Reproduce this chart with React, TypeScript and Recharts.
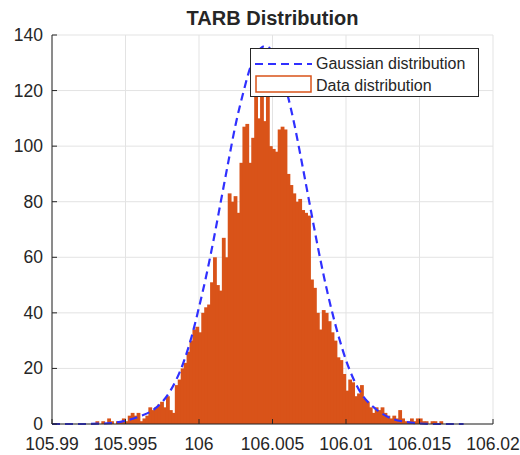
import React from "react";
import { Bar, CartesianGrid, ComposedChart, Line, XAxis, YAxis } from "recharts";

// histogram bins (0.0002 wide, starting at 105.993), counts
const binStart = 105.993;
const binWidth = 0.0002;
const binCounts = [
  1, 0, 1, 0, 2, 1, 0, 1, 1, 2,
  1, 3, 4, 3, 4, 1, 2, 3, 6, 5,
  6, 7, 8, 6, 10, 5, 4, 14, 16, 20,
  22, 26, 30, 34, 35, 33, 40, 42, 43, 51,
  60, 50, 48, 67, 60, 83, 80, 82, 76, 94,
  107, 108, 94, 103, 118, 110, 122, 109, 118, 100,
  99, 98, 106, 107, 106, 90, 86, 83, 80, 81,
  77, 76, 75, 52, 49, 40, 34, 41, 40, 37,
  33, 30, 24, 23, 18, 12, 16, 15, 10, 11,
  14, 9, 8, 6, 4, 6, 5, 6, 4, 3,
  2, 3, 2, 5, 2, 1, 1, 2, 1, 2,
  2, 1, 1, 0, 1, 1, 0, 1, 0, 0,
];

// fitted gaussian curve
const gaussX = [
  105.99, 105.992, 105.994, 105.995, 105.996, 105.997, 105.998, 105.999, 105.9995,
  106.0, 106.0005, 106.001, 106.0015, 106.002, 106.0025, 106.003, 106.0035, 106.004,
  106.0045, 106.005, 106.0055, 106.006, 106.0065, 106.007, 106.0075, 106.008, 106.0085,
  106.009, 106.0095, 106.01, 106.011, 106.012, 106.013, 106.014, 106.015, 106.016, 106.018,
];
const gaussY = [
  0, 0, 0.3, 1.2, 2.8, 5.5, 11.5, 23, 31.5,
  42, 53.5, 66.5, 80.5, 94.5, 108, 119, 128.5, 134,
  136, 134, 128, 119, 107.5, 94, 80, 66, 53,
  41.5, 31.5, 23, 11.3, 5.5, 2.2, 0.8, 0.2, 0, 0,
];

const xTicks = [105.99, 105.995, 106, 106.005, 106.01, 106.015, 106.02];
const xTickLabels = ["105.99", "105.995", "106", "106.005", "106.01", "106.015", "106.02"];
const yTicks = [0, 20, 40, 60, 80, 100, 120, 140];

const histData = binCounts.map((count, i) => ({ x: binStart + binWidth * (i + 0.5), count }));
const gaussData = gaussX.map((x, i) => ({ x, g: gaussY[i] }));

const INK = "#262626";
const ORANGE = "#D95319";
const BLUE = "#3030ff";
const FONT = "'Liberation Sans', Arial, sans-serif";
const TICK_LEN = 5;
const BIN_PX = 3.8; // one bin is ~2.94px wide, overlap so the area is solid

function BottomTick(props: any) {
  const { x, y, payload } = props;
  const label = xTickLabels[xTicks.indexOf(payload.value)] ?? String(payload.value);
  return (
    <g>
      <line x1={x} x2={x} y1={y} y2={y - TICK_LEN} stroke={INK} />
      <text x={x} y={y + 26} textAnchor="middle" fontSize={17.5} fill={INK} fontFamily={FONT}>
        {label}
      </text>
    </g>
  );
}

function TopTick(props: any) {
  const { x, y } = props;
  return <line x1={x} x2={x} y1={y} y2={y + TICK_LEN} stroke={INK} />;
}

function LeftTick(props: any) {
  const { x, y, payload } = props;
  return (
    <g>
      <line x1={x} x2={x + TICK_LEN} y1={y} y2={y} stroke={INK} />
      <text x={x - 9} y={y + 6} textAnchor="end" fontSize={17.5} fill={INK} fontFamily={FONT}>
        {payload.value}
      </text>
    </g>
  );
}

function RightTick(props: any) {
  const { x, y } = props;
  return <line x1={x} x2={x - TICK_LEN} y1={y} y2={y} stroke={INK} />;
}

function BinShape(props: any) {
  const { x, y, width, height } = props;
  if (!height || height <= 0) return null;
  return <rect x={x + width / 2 - BIN_PX / 2} y={y} width={BIN_PX} height={height} fill={ORANGE} />;
}

export default function App() {
  return (
    <div
      style={{
        position: "absolute",
        left: 0,
        top: 0,
        width: 520,
        height: 455,
        background: "#fff",
        fontFamily: FONT,
        overflow: "hidden",
      }}
    >
      <div
        style={{
          position: "absolute",
          left: 0,
          top: 8,
          width: 545,
          textAlign: "center",
          fontSize: 20,
          lineHeight: "20px",
          fontWeight: "bold",
          color: INK,
        }}
      >
        TARB Distribution
      </div>

      <ComposedChart
        width={520}
        height={455}
        data={histData}
        margin={{ top: 35, right: 27, bottom: 0, left: 0 }}
        barGap={0}
        barCategoryGap={0}
      >
        <CartesianGrid stroke="#e3e3e3" verticalValues={xTicks} horizontalValues={yTicks} />
        <XAxis
          dataKey="x"
          type="number"
          domain={[105.99, 106.02]}
          ticks={xTicks}
          interval={0}
          tickSize={0}
          tickMargin={0}
          tickLine={false}
          axisLine={{ stroke: INK }}
          tick={(p: any) => <BottomTick {...p} />}
          height={31}
        />
        <XAxis
          xAxisId="top"
          orientation="top"
          dataKey="x"
          type="number"
          domain={[105.99, 106.02]}
          ticks={xTicks}
          interval={0}
          tickSize={0}
          tickMargin={0}
          tickLine={false}
          axisLine={{ stroke: INK }}
          tick={(p: any) => <TopTick {...p} />}
          height={0}
        />
        <YAxis
          type="number"
          domain={[0, 140]}
          ticks={yTicks}
          interval={0}
          tickSize={0}
          tickMargin={0}
          tickLine={false}
          axisLine={{ stroke: INK }}
          tick={(p: any) => <LeftTick {...p} />}
          width={52}
        />
        <YAxis
          yAxisId="right"
          orientation="right"
          type="number"
          domain={[0, 140]}
          ticks={yTicks}
          interval={0}
          tickSize={0}
          tickMargin={0}
          tickLine={false}
          axisLine={{ stroke: INK }}
          tick={(p: any) => <RightTick {...p} />}
          width={0}
        />
        <Bar dataKey="count" fill={ORANGE} shape={(p: any) => <BinShape {...p} />} isAnimationActive={false} />
        <Line
          data={gaussData}
          dataKey="g"
          type="monotone"
          stroke={BLUE}
          strokeWidth={2.2}
          strokeDasharray="8 5"
          dot={false}
          activeDot={false}
          isAnimationActive={false}
        />
      </ComposedChart>

      <div
        style={{
          position: "absolute",
          left: 250,
          top: 48,
          width: 229,
          height: 49,
          boxSizing: "border-box",
          border: `1px solid ${INK}`,
          background: "#fff",
        }}
      >
        <svg width={227} height={47} style={{ display: "block" }}>
          <line x1={4} x2={61} y1={15} y2={15} stroke={BLUE} strokeWidth={2.2} strokeDasharray="8 5" />
          <rect x={5} y={27} width={55} height={16} fill="#fff" stroke={ORANGE} strokeWidth={1.5} />
          <text x={65} y={20} fontSize={16} fill={INK} fontFamily={FONT}>
            Gaussian distribution
          </text>
          <text x={65} y={42} fontSize={16} fill={INK} fontFamily={FONT}>
            Data distribution
          </text>
        </svg>
      </div>
    </div>
  );
}
